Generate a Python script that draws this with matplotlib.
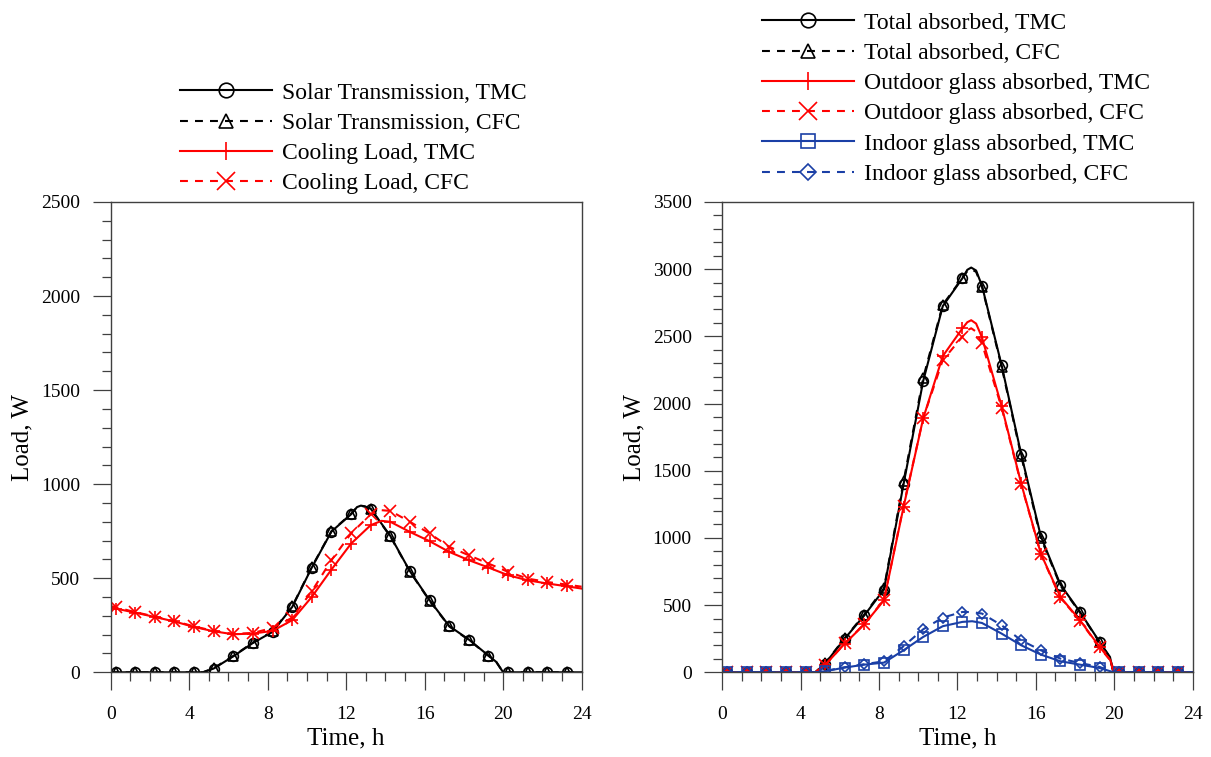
import matplotlib
matplotlib.use("Agg")
import matplotlib.pyplot as plt
from matplotlib.lines import Line2D
from matplotlib.ticker import MultipleLocator

plt.rcParams['font.family'] = ['Liberation Serif', 'DejaVu Serif']

# Hourly sample times (markers)
t_mark = [0.25 + k for k in range(24)]

# ---- Left panel: solar transmission and cooling load (W) ----
solar_tmc = [0, 0, 0, 0, 0, 20, 85, 156, 215, 347, 557, 748,
             840, 870, 725, 537, 383, 246, 174, 89, 0, 0, 0, 0]
solar_cfc = [0, 0, 0, 0, 0, 22, 87, 158, 217, 350, 560, 750,
             842, 868, 722, 535, 380, 244, 172, 88, 0, 0, 0, 0]
cool_tmc = [339, 317, 294, 270, 241, 218, 202, 206, 220, 277, 401, 546,
            684, 782, 800, 746, 697, 640, 596, 557, 516, 489, 472, 457]
cool_cfc = [346, 320, 296, 272, 244, 220, 204, 209, 236, 290, 431, 596,
            738, 839, 858, 800, 738, 667, 622, 578, 534, 498, 480, 466]

# extra points along the curves between the hourly samples
solar_tmc_x = [0.0, 4.7, 12.55, 12.75, 12.95, 19.65, 20.0, 24.0]
solar_tmc_y = [0, 0, 878, 886, 882, 55, 0, 0]
solar_cfc_x = [0.0, 4.7, 12.55, 12.75, 12.95, 19.65, 20.0, 24.0]
solar_cfc_y = [0, 0, 877, 885, 881, 55, 0, 0]
cool_tmc_x = [0.0, 13.8, 24.0]
cool_tmc_y = [345, 805, 445]
cool_cfc_x = [0.0, 13.75, 24.0]
cool_cfc_y = [352, 862, 455]

# ---- Right panel: absorbed solar radiation (W) ----
tot_tmc = [0, 0, 0, 0, 0, 65, 251, 424, 616, 1400, 2167, 2725,
           2932, 2877, 2286, 1623, 1013, 653, 449, 226, 0, 0, 0, 0]
tot_cfc = [0, 0, 0, 0, 0, 68, 255, 430, 625, 1420, 2190, 2735,
           2935, 2870, 2275, 1610, 1000, 645, 445, 222, 0, 0, 0, 0]
out_tmc = [0, 0, 0, 0, 0, 55, 213, 357, 536, 1231, 1889, 2353,
           2559, 2492, 1981, 1405, 884, 561, 387, 189, 0, 0, 0, 0]
out_cfc = [0, 0, 0, 0, 0, 55, 215, 360, 540, 1240, 1890, 2323,
           2497, 2447, 1970, 1400, 880, 555, 383, 185, 0, 0, 0, 0]
in_tmc = [0, 0, 0, 0, 0, 8, 35, 57, 72, 164, 263, 343,
          375, 367, 288, 201, 132, 82, 57, 32, 0, 0, 0, 0]
in_cfc = [0, 0, 0, 0, 0, 10, 38, 60, 82, 194, 320, 407,
          449, 437, 350, 238, 164, 102, 69, 40, 0, 0, 0, 0]

tot_tmc_x = [0.0, 4.75, 12.5, 12.7, 12.95, 19.78, 19.95, 24.0]
tot_tmc_y = [0, 0, 2995, 3012, 2990, 114, 0, 0]
tot_cfc_x = [0.0, 4.75, 12.5, 12.7, 12.95, 19.78, 19.95, 24.0]
tot_cfc_y = [0, 0, 2985, 3000, 2980, 110, 0, 0]
out_tmc_x = [0.0, 4.75, 12.5, 12.7, 12.95, 19.8, 19.97, 24.0]
out_tmc_y = [0, 0, 2605, 2620, 2595, 90, 0, 0]
out_cfc_x = [0.0, 4.75, 12.5, 12.7, 12.95, 19.8, 19.97, 24.0]
out_cfc_y = [0, 0, 2545, 2560, 2535, 88, 0, 0]
in_tmc_x = [0.0, 4.75, 12.75, 19.97, 24.0]
in_tmc_y = [0, 0, 380, 0, 0]
in_cfc_x = [0.0, 4.75, 12.75, 19.97, 24.0]
in_cfc_y = [0, 0, 448, 0, 0]

RED = '#ff0000'
BLUE = '#1a3fa6'
BLACK = '#000000'
DASH = (3.8, 3.4)
LW = 1.5
MS = 7

left_series = [
    ("Solar Transmission, TMC", solar_tmc, solar_tmc_x, solar_tmc_y, BLACK, 'o', False),
    ("Solar Transmission, CFC", solar_cfc, solar_cfc_x, solar_cfc_y, BLACK, '^', True),
    ("Cooling Load, TMC", cool_tmc, cool_tmc_x, cool_tmc_y, RED, '+', False),
    ("Cooling Load, CFC", cool_cfc, cool_cfc_x, cool_cfc_y, RED, 'x', True),
]
right_series = [
    ("Total absorbed, TMC", tot_tmc, tot_tmc_x, tot_tmc_y, BLACK, 'o', False),
    ("Total absorbed, CFC", tot_cfc, tot_cfc_x, tot_cfc_y, BLACK, '^', True),
    ("Outdoor glass absorbed, TMC", out_tmc, out_tmc_x, out_tmc_y, RED, '+', False),
    ("Outdoor glass absorbed, CFC", out_cfc, out_cfc_x, out_cfc_y, RED, 'x', True),
    ("Indoor glass absorbed, TMC", in_tmc, in_tmc_x, in_tmc_y, BLUE, 's', False),
    ("Indoor glass absorbed, CFC", in_cfc, in_cfc_x, in_cfc_y, BLUE, 'D', True),
]


def marker_kw(marker, color, size):
    kw = dict(marker=marker, markersize=size, markeredgecolor=color,
              markeredgewidth=1.2)
    if marker in ('o', '^', 's', 'D'):
        kw['markerfacecolor'] = 'none'
    if marker == 'D':
        kw['markersize'] = size * 0.8
    if marker in ('+', 'x'):
        kw['markersize'] = size * 1.2
    return kw


def draw(ax, series):
    handles = []
    for label, yv, ex, ey, color, marker, dashed in series:
        pts = sorted(list(zip(t_mark, yv)) + list(zip(ex, ey)))
        xs = [p[0] for p in pts]
        ys = [p[1] for p in pts]
        marks = [i for i, x in enumerate(xs) if x in t_mark]
        line, = ax.plot(xs, ys, color=color, lw=LW, markevery=marks,
                        **marker_kw(marker, color, MS))
        if dashed:
            line.set_dashes(DASH)
        h = Line2D([], [], color=color, lw=LW, **marker_kw(marker, color, MS * 1.5))
        if dashed:
            h.set_dashes(DASH)
        handles.append((h, label))
    return handles


def style(ax, ymax, ystep):
    ax.set_xlim(0, 24)
    ax.set_ylim(0, ymax)
    ax.xaxis.set_major_locator(MultipleLocator(4))
    ax.xaxis.set_minor_locator(MultipleLocator(1))
    ax.yaxis.set_major_locator(MultipleLocator(ystep))
    ax.yaxis.set_minor_locator(MultipleLocator(100))
    ax.tick_params(which='major', direction='out', length=13, width=0.9,
                   labelsize=14, color='#404040', pad=9)
    ax.tick_params(which='minor', direction='out', length=6.5, width=0.9,
                   color='#404040')
    ax.tick_params(axis='x', which='major', pad=11)
    for s in ax.spines.values():
        s.set_color('#404040')
        s.set_linewidth(1.0)
    ax.set_xlabel("Time, h", fontsize=18)
    ax.set_ylabel("Load, W", fontsize=18)
    ax.xaxis.set_label_coords(0.5, -0.118)
    ax.yaxis.set_label_coords(-0.163, 0.5)


fig = plt.figure(figsize=(12.11, 7.57), dpi=100)
axl = fig.add_axes([0.0914, 0.1119, 0.3889, 0.6213])
axr = fig.add_axes([0.5964, 0.1119, 0.3885, 0.6213])

hl = draw(axl, left_series)
hr = draw(axr, right_series)
style(axl, 2500, 500)
style(axr, 3500, 500)

leg_kw = dict(loc='upper left', frameon=False, fontsize=17, borderpad=0,
              handlelength=3.9, handletextpad=0.4, labelspacing=0.37,
              borderaxespad=0)
fig.legend([h for h, _ in hl], [l for _, l in hl],
           bbox_to_anchor=(180 / 1211, 1 - 82 / 757), **leg_kw)
fig.legend([h for h, _ in hr], [l for _, l in hr],
           bbox_to_anchor=(762 / 1211, 1 - 12 / 757), **leg_kw)

fig.savefig("out.png", dpi=100)
